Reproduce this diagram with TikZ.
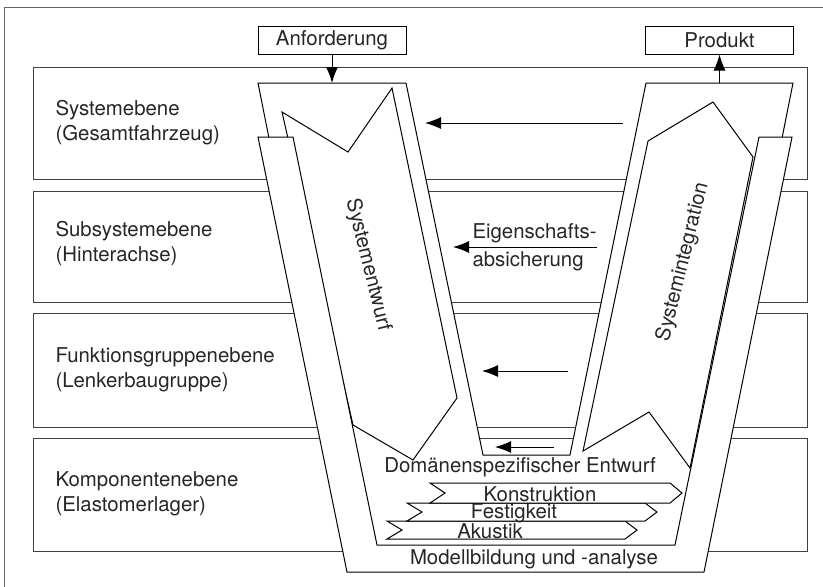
\documentclass[tikz,border=0pt]{standalone}
\usepackage{fontspec}
\setmainfont{TeX Gyre Heros}
\usetikzlibrary{arrows.meta,positioning,calc}

\begin{document}
\begin{tikzpicture}[x=0.5pt,y=-0.5pt,line width=0.5pt,
  every node/.style={font=\fontsize{10.2}{12.5}\selectfont,inner sep=0pt,text=black!85},
  levelbox/.style={draw=black!75,line width=0.5pt},
  part/.style={draw,fill=white,line join=miter},
  iobox/.style={draw,minimum width=74pt,minimum height=14pt},
  back/.style={-{Latex[length=8pt,width=6pt]}}]

  \useasboundingbox (0,0) rectangle (823,586);
  \draw[black!60,line width=0.5pt] (4,7) rectangle (830,595);

  % levels
  \foreach \t/\b in {67/179,191/302,313/427,438/551}
    \draw[levelbox] (33,\t) rectangle (807,\b);
  \node[anchor=west,align=left] (sys) at (55,123) {Systemebene\\(Gesamtfahrzeug)};
  \node[anchor=west,align=left] (sub) at (55,244) {Subsystemebene\\(Hinterachse)};
  \node[anchor=west,align=left] (fkt) at (55,370) {Funktionsgruppenebene\\(Lenkerbaugruppe)};
  \node[anchor=west,align=left] (kom) at (55,494) {Komponentenebene\\(Elastomerlager)};

  % V
  \draw[part] (258,83) -- (406,83) -- (483,455) -- (570,455) -- (646,83) -- (793,83)
    -- (698,560) -- (353,560) -- cycle;
  \draw[part] (282,112) -- (348,152) -- (392,88) -- (457,398) -- (413,460) -- (353,425) -- cycle;
  \draw[part] (648,141) -- (713,102) -- (753,157) -- (690,468) -- (649,412) -- (583,451) -- cycle;
  \node[rotate=-76] (entw) at (368,265) {Systementwurf};
  \node[rotate=76] (integ) at (683,262) {Systemintegration};

  % domains
  \node (dom) at (520,467) {Domänenspezifischer Entwurf};
  \foreach \xl/\xr/\yt/\yb/\tx/\lab in {387/625/521/539/490/Akustik,
      407/645/503/521/514/Festigkeit,430/670/483/503/540/Konstruktion}{
    \draw[part] (\xl,\yt) -- (\xr,\yt) -- ($(\xr+12,\yt)!0.5!(\xr+12,\yb)$) -- (\xr,\yb)
      -- (\xl,\yb) -- ($(\xl+15,\yt)!0.5!(\xl+15,\yb)$) -- cycle;
    \node (\lab) at (\tx,{(\yt+\yb)/2+1}) {\lab};
  }

  \draw[part] (258,137) -- (293,137) -- (377,545) -- (675,545) -- (759,137) -- (792,137)
    -- (704,572) -- (347,572) -- cycle;
  \node (mod) at (534,559) {Modellbildung und -analyse};

  % in / out
  \node[iobox] (anf) at (332,40) {Anforderung};
  \node[iobox] (prod) at (719.5,40) {Produkt};
  \coordinate (in) at (332,83);
  \coordinate (out) at (719.5,83);
  \draw[back] (anf) -- (in);
  \draw[back] (out) -- (prod);

  % feedback
  \coordinate (f1) at (623,123);  \coordinate (g1) at (425,123);
  \coordinate (f2) at (597,247);  \coordinate (g2) at (453,247);
  \coordinate (f3) at (568,371);  \coordinate (g3) at (482,371);
  \coordinate (f4) at (554,447);  \coordinate (g4) at (495,447);
  \foreach \i in {1,...,4}
    \draw[back] (f\i) -- (g\i);
  \node[anchor=west] (eig) at (472,233) {Eigenschafts-};
  \node[anchor=west] (abs) at (472,261) {absicherung};

\end{tikzpicture}
\end{document}
